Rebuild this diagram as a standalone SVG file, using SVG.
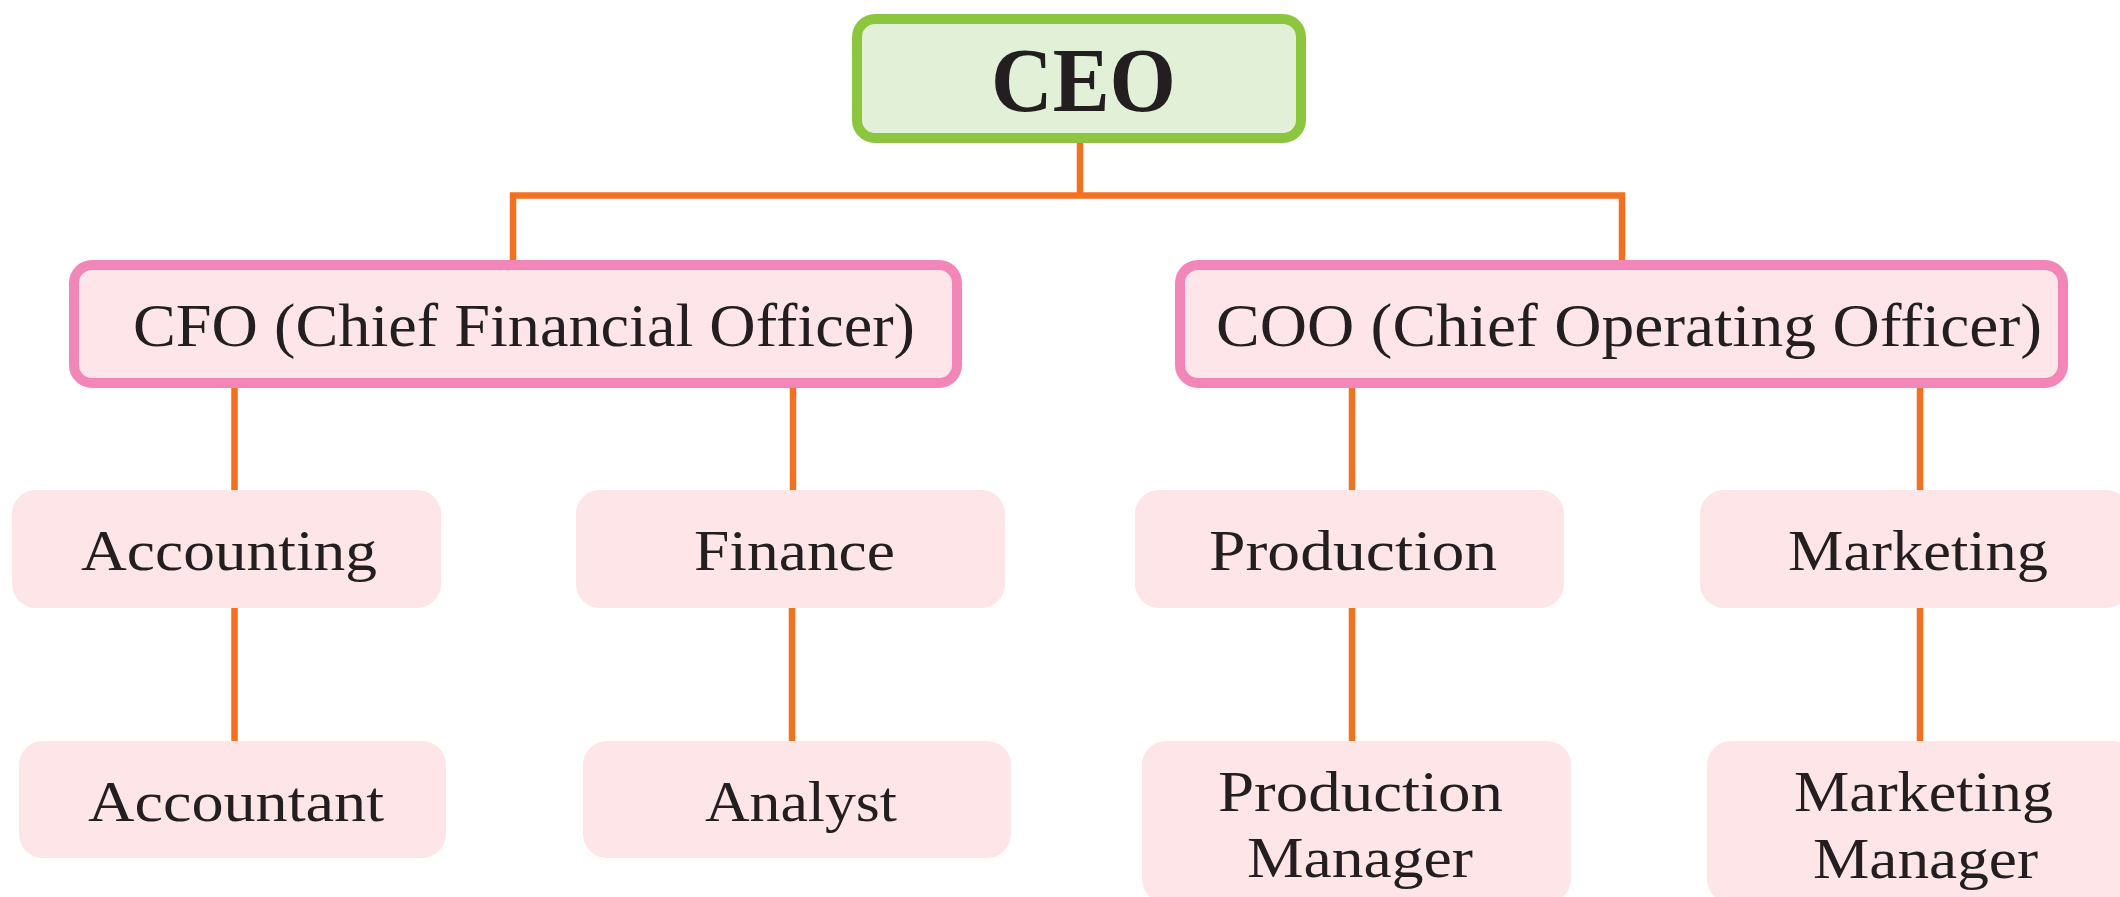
<svg xmlns="http://www.w3.org/2000/svg" width="2120" height="897" viewBox="0 0 2120 897">
<style>
.bg{fill:#ffffff}
.ceo{fill:#e3f0d8;stroke:#8cc63f;stroke-width:10}
.chief{fill:#fde5e9;stroke:#f286b6;stroke-width:10}
.dept{fill:#fde5e8}
.conn{fill:none;stroke:#f37021;stroke-width:6.5}
text{font-family:"Liberation Serif","Times New Roman",serif;fill:#231f20}
.t1{font-size:92px;font-weight:bold}
.t2{font-size:61px}
.t3{font-size:56px}
</style>
<rect class="bg" x="0" y="0" width="2120" height="897"/>
<g id="connectors">
<path class="conn" d="M1080,140 V195.5"/>
<path class="conn" d="M513,262 V195.5 H1622 V262"/>
<path class="conn" d="M234.5,386 V492"/>
<path class="conn" d="M793,386 V492"/>
<path class="conn" d="M1352,386 V492"/>
<path class="conn" d="M1920,386 V492"/>
<path class="conn" d="M234.5,606 V743"/>
<path class="conn" d="M792,606 V743"/>
<path class="conn" d="M1352,606 V743"/>
<path class="conn" d="M1920,606 V743"/>
</g>
<g id="ceo">
<rect class="ceo" x="857" y="19" width="444" height="119" rx="18"/>
<text class="t1" x="991" y="111" textLength="185" lengthAdjust="spacingAndGlyphs">CEO</text>
</g>
<g id="cfo">
<rect class="chief" x="74" y="265" width="883" height="118" rx="18"/>
<text class="t2" x="133" y="346" textLength="782" lengthAdjust="spacingAndGlyphs">CFO (Chief Financial Officer)</text>
</g>
<g id="coo">
<rect class="chief" x="1180" y="265" width="883" height="118" rx="18"/>
<text class="t2" x="1216" y="346" textLength="826" lengthAdjust="spacingAndGlyphs">COO (Chief Operating Officer)</text>
</g>
<g id="accounting">
<rect class="dept" x="12" y="490" width="429" height="118" rx="24"/>
<text class="t3" x="81" y="570" textLength="296" lengthAdjust="spacingAndGlyphs">Accounting</text>
</g>
<g id="finance">
<rect class="dept" x="576" y="490" width="429" height="118" rx="24"/>
<text class="t3" x="694" y="570" textLength="201" lengthAdjust="spacingAndGlyphs">Finance</text>
</g>
<g id="production">
<rect class="dept" x="1135" y="490" width="429" height="118" rx="24"/>
<text class="t3" x="1209" y="570" textLength="288" lengthAdjust="spacingAndGlyphs">Production</text>
</g>
<g id="marketing">
<rect class="dept" x="1700" y="490" width="430" height="118" rx="24"/>
<text class="t3" x="1788" y="570" textLength="260" lengthAdjust="spacingAndGlyphs">Marketing</text>
</g>
<g id="accountant">
<rect class="dept" x="19" y="741" width="427" height="117" rx="24"/>
<text class="t3" x="88" y="821" textLength="296" lengthAdjust="spacingAndGlyphs">Accountant</text>
</g>
<g id="analyst">
<rect class="dept" x="583" y="741" width="428" height="117" rx="24"/>
<text class="t3" x="705" y="821" textLength="192" lengthAdjust="spacingAndGlyphs">Analyst</text>
</g>
<g id="production-manager">
<rect class="dept" x="1142" y="741" width="429" height="162" rx="24"/>
<text class="t3" x="1218" y="811" textLength="285" lengthAdjust="spacingAndGlyphs">Production</text>
<text class="t3" x="1247" y="877" textLength="226" lengthAdjust="spacingAndGlyphs">Manager</text>
</g>
<g id="marketing-manager">
<rect class="dept" x="1707" y="741" width="430" height="162" rx="24"/>
<text class="t3" x="1794" y="811" textLength="259" lengthAdjust="spacingAndGlyphs">Marketing</text>
<text class="t3" x="1813" y="878" textLength="225" lengthAdjust="spacingAndGlyphs">Manager</text>
</g>
</svg>
